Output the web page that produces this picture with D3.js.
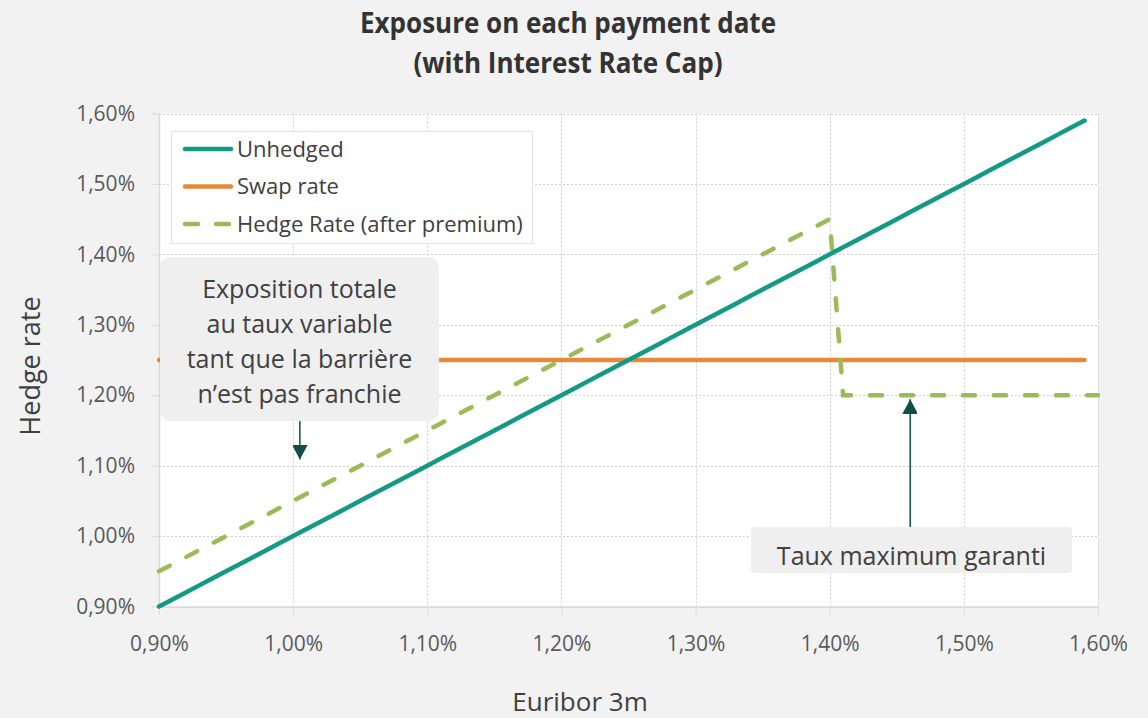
<!DOCTYPE html>
<html>
<head>
<meta charset="utf-8">
<script src="https://cdn.jsdelivr.net/npm/d3@7"></script>
<style>
  html, body { margin: 0; padding: 0; background: #f2f2f2; }
  svg { display: block; font-family: "Open Sans", "Noto Sans", sans-serif; }
</style>
</head>
<body>
<svg id="chart" width="1148" height="718"></svg>
<script>
// ---- data ----
const euribor = [0.90,0.91,0.92,0.93,0.94,0.95,0.96,0.97,0.98,0.99,
  1.00,1.01,1.02,1.03,1.04,1.05,1.06,1.07,1.08,1.09,
  1.10,1.11,1.12,1.13,1.14,1.15,1.16,1.17,1.18,1.19,
  1.20,1.21,1.22,1.23,1.24,1.25,1.26,1.27,1.28,1.29,
  1.30,1.31,1.32,1.33,1.34,1.35,1.36,1.37,1.38,1.39,
  1.40,1.41,1.42,1.43,1.44,1.45,1.46,1.47,1.48,1.49,
  1.50,1.51,1.52,1.53,1.54,1.55,1.56,1.57,1.58,1.59,1.60];
const unhedged = [0.90,0.91,0.92,0.93,0.94,0.95,0.96,0.97,0.98,0.99,
  1.00,1.01,1.02,1.03,1.04,1.05,1.06,1.07,1.08,1.09,
  1.10,1.11,1.12,1.13,1.14,1.15,1.16,1.17,1.18,1.19,
  1.20,1.21,1.22,1.23,1.24,1.25,1.26,1.27,1.28,1.29,
  1.30,1.31,1.32,1.33,1.34,1.35,1.36,1.37,1.38,1.39,
  1.40,1.41,1.42,1.43,1.44,1.45,1.46,1.47,1.48,1.49,
  1.50,1.51,1.52,1.53,1.54,1.55,1.56,1.57,1.58,1.59];
const swapRate = [1.25,1.25,1.25,1.25,1.25,1.25,1.25,1.25,1.25,1.25,
  1.25,1.25,1.25,1.25,1.25,1.25,1.25,1.25,1.25,1.25,
  1.25,1.25,1.25,1.25,1.25,1.25,1.25,1.25,1.25,1.25,
  1.25,1.25,1.25,1.25,1.25,1.25,1.25,1.25,1.25,1.25,
  1.25,1.25,1.25,1.25,1.25,1.25,1.25,1.25,1.25,1.25,
  1.25,1.25,1.25,1.25,1.25,1.25,1.25,1.25,1.25,1.25,
  1.25,1.25,1.25,1.25,1.25,1.25,1.25,1.25,1.25,1.25];
const hedgeRate = [0.95,0.96,0.97,0.98,0.99,1.00,1.01,1.02,1.03,1.04,
  1.05,1.06,1.07,1.08,1.09,1.10,1.11,1.12,1.13,1.14,
  1.15,1.16,1.17,1.18,1.19,1.20,1.21,1.22,1.23,1.24,
  1.25,1.26,1.27,1.28,1.29,1.30,1.31,1.32,1.33,1.34,
  1.35,1.36,1.37,1.38,1.39,1.40,1.41,1.42,1.43,1.44,
  1.45,1.20,1.20,1.20,1.20,1.20,1.20,1.20,1.20,1.20,
  1.20,1.20,1.20,1.20,1.20,1.20,1.20,1.20,1.20,1.20,1.20];
const tickValues = [0.90,1.00,1.10,1.20,1.30,1.40,1.50,1.60];
const titleLines = ["Exposure on each payment date", "(with Interest Rate Cap)"];
const seriesNames = ["Unhedged", "Swap rate", "Hedge Rate (after premium)"];
const note1Lines = ["Exposition totale", "au taux variable", "tant que la barrière", "n’est pas franchie"];
const note2Text = "Taux maximum garanti";
const note1Target = [1.005, 1.11];   // arrow tip (x, y) in data units
const note2Target = [1.46, 1.20];

// ---- layout ----
const svg = d3.select("#chart");
const L = 159, R = 1098, T = 113.5, B = 606.5;
const x = d3.scaleLinear().domain([0.9, 1.6]).range([L, R]);
const y = d3.scaleLinear().domain([0.9, 1.6]).range([B, T]);
const cTeal = "#139a85", cOrange = "#e8893a", cGreen = "#9bbb59", cArrow = "#0f4f47";
const txt = "#404040";

svg.append("rect").attr("width", 1148).attr("height", 718).attr("fill", "#f2f2f2");
svg.append("rect").attr("x", L).attr("y", T).attr("width", R - L).attr("height", B - T).attr("fill", "#ffffff");

// gridlines
const grid = svg.append("g").attr("stroke", "#cfcfcf").attr("stroke-width", 1).attr("stroke-dasharray", "2,2");
tickValues.forEach(v => {
  grid.append("line").attr("x1", L).attr("x2", R).attr("y1", Math.round(y(v)) + 0.5).attr("y2", Math.round(y(v)) + 0.5);
  grid.append("line").attr("y1", T).attr("y2", B).attr("x1", Math.round(x(v)) + 0.5).attr("x2", Math.round(x(v)) + 0.5);
});

const fmt = d => d.toFixed(2).replace(".", ",") + "%";
const xAxis = svg.append("g").attr("transform", `translate(0,${B})`)
  .call(d3.axisBottom(x).tickValues(tickValues).tickFormat(fmt).tickSize(8).tickPadding(22).tickSizeOuter(0));
const yAxis = svg.append("g").attr("transform", `translate(${L},0)`)
  .call(d3.axisLeft(y).tickValues(tickValues).tickFormat(fmt).tickSize(7).tickPadding(17).tickSizeOuter(0));
[xAxis, yAxis].forEach(a => {
  a.select(".domain").attr("stroke", "#d9d9d9").attr("stroke-width", 1.5);
  a.selectAll(".tick line").attr("stroke", "#d9d9d9");
  a.selectAll(".tick text").attr("fill", "#595959").style("font-size", "21px").style("font-family", "'Open Sans', sans-serif");
});

// series
const pts = vals => vals.map((v, i) => [euribor[i], v]);
const line = d3.line().x(d => x(d[0])).y(d => y(d[1]));
svg.append("path").attr("d", line(pts(swapRate))).attr("fill", "none")
  .attr("stroke", cOrange).attr("stroke-width", 4.5).attr("stroke-linecap", "round");
svg.append("path").attr("d", line(pts(hedgeRate))).attr("fill", "none")
  .attr("stroke", cGreen).attr("stroke-width", 4.5).attr("stroke-linecap", "round")
  .attr("stroke-dasharray", "12,19");
svg.append("path").attr("d", line(pts(unhedged))).attr("fill", "none")
  .attr("stroke", cTeal).attr("stroke-width", 4.5).attr("stroke-linecap", "round").attr("stroke-linejoin", "round");

// title
titleLines.forEach((t, i) => {
  svg.append("text").attr("x", 568).attr("y", 33 + i * 40).attr("text-anchor", "middle")
    .attr("fill", "#333333").style("font-size", "28px").style("font-weight", "700")
    .attr("textLength", i === 0 ? 416 : 309).attr("lengthAdjust", "spacingAndGlyphs")
    .text(t);
});

// axis titles
svg.append("text").attr("transform", "translate(40,366) rotate(-90)").attr("text-anchor", "middle")
  .attr("fill", txt).style("font-size", "27px").text("Hedge rate");
svg.append("text").attr("x", 580).attr("y", 711).attr("text-anchor", "middle")
  .attr("fill", txt).style("font-size", "26px").text("Euribor 3m");

// legend
const lg = svg.append("g");
lg.append("rect").attr("x", 171.5).attr("y", 131.5).attr("width", 361).attr("height", 112)
  .attr("fill", "#ffffff").attr("stroke", "#e3e3e3");
const legendStyles = [
  {c: cTeal, dash: null}, {c: cOrange, dash: null}, {c: cGreen, dash: "13,18"}
];
seriesNames.forEach((n, i) => {
  const cy = 149 + i * 37.5;
  lg.append("line").attr("x1", 185).attr("x2", 231).attr("y1", cy).attr("y2", cy)
    .attr("stroke", legendStyles[i].c).attr("stroke-width", 4.5).attr("stroke-linecap", "round")
    .attr("stroke-dasharray", legendStyles[i].dash);
  lg.append("text").attr("x", 237).attr("y", cy).attr("dy", "0.35em").attr("fill", txt)
    .style("font-size", "22px").text(n);
});

// arrow marker
const defs = svg.append("defs");
defs.append("marker").attr("id", "arr").attr("viewBox", "0 0 16 15").attr("refX", 15).attr("refY", 8)
  .attr("markerWidth", 16).attr("markerHeight", 15).attr("markerUnits", "userSpaceOnUse").attr("orient", "auto")
  .append("path").attr("d", "M0,0 L15,8 L0,16 Z").attr("fill", cArrow);

// annotation 1
const a1 = svg.append("g");
const a1x = 160, a1y = 257, a1w = 279, a1h = 164;
a1.append("line").attr("x1", x(note1Target[0])).attr("x2", x(note1Target[0]))
  .attr("y1", a1y + a1h).attr("y2", y(note1Target[1]) + 1)
  .attr("stroke", cArrow).attr("stroke-width", 1.5).attr("marker-end", "url(#arr)");
a1.append("rect").attr("x", a1x).attr("y", a1y).attr("width", a1w).attr("height", a1h)
  .attr("rx", 10).attr("fill", "#efefef");
note1Lines.forEach((t, i) => {
  a1.append("text").attr("x", a1x + a1w / 2).attr("y", 298 + i * 35).attr("text-anchor", "middle")
    .attr("fill", txt).style("font-size", "25px").text(t);
});

// annotation 2
const a2 = svg.append("g");
const a2x = 751, a2y = 527, a2w = 321, a2h = 46;
a2.append("line").attr("x1", x(note2Target[0])).attr("x2", x(note2Target[0]))
  .attr("y1", a2y).attr("y2", y(note2Target[1]) + 4)
  .attr("stroke", cArrow).attr("stroke-width", 1.5).attr("marker-end", "url(#arr)");
a2.append("rect").attr("x", a2x).attr("y", a2y).attr("width", a2w).attr("height", a2h)
  .attr("rx", 4).attr("fill", "#efefef");
a2.append("text").attr("x", a2x + a2w / 2).attr("y", 565).attr("text-anchor", "middle")
  .attr("fill", txt).style("font-size", "25px").text(note2Text);
</script>
</body>
</html>
